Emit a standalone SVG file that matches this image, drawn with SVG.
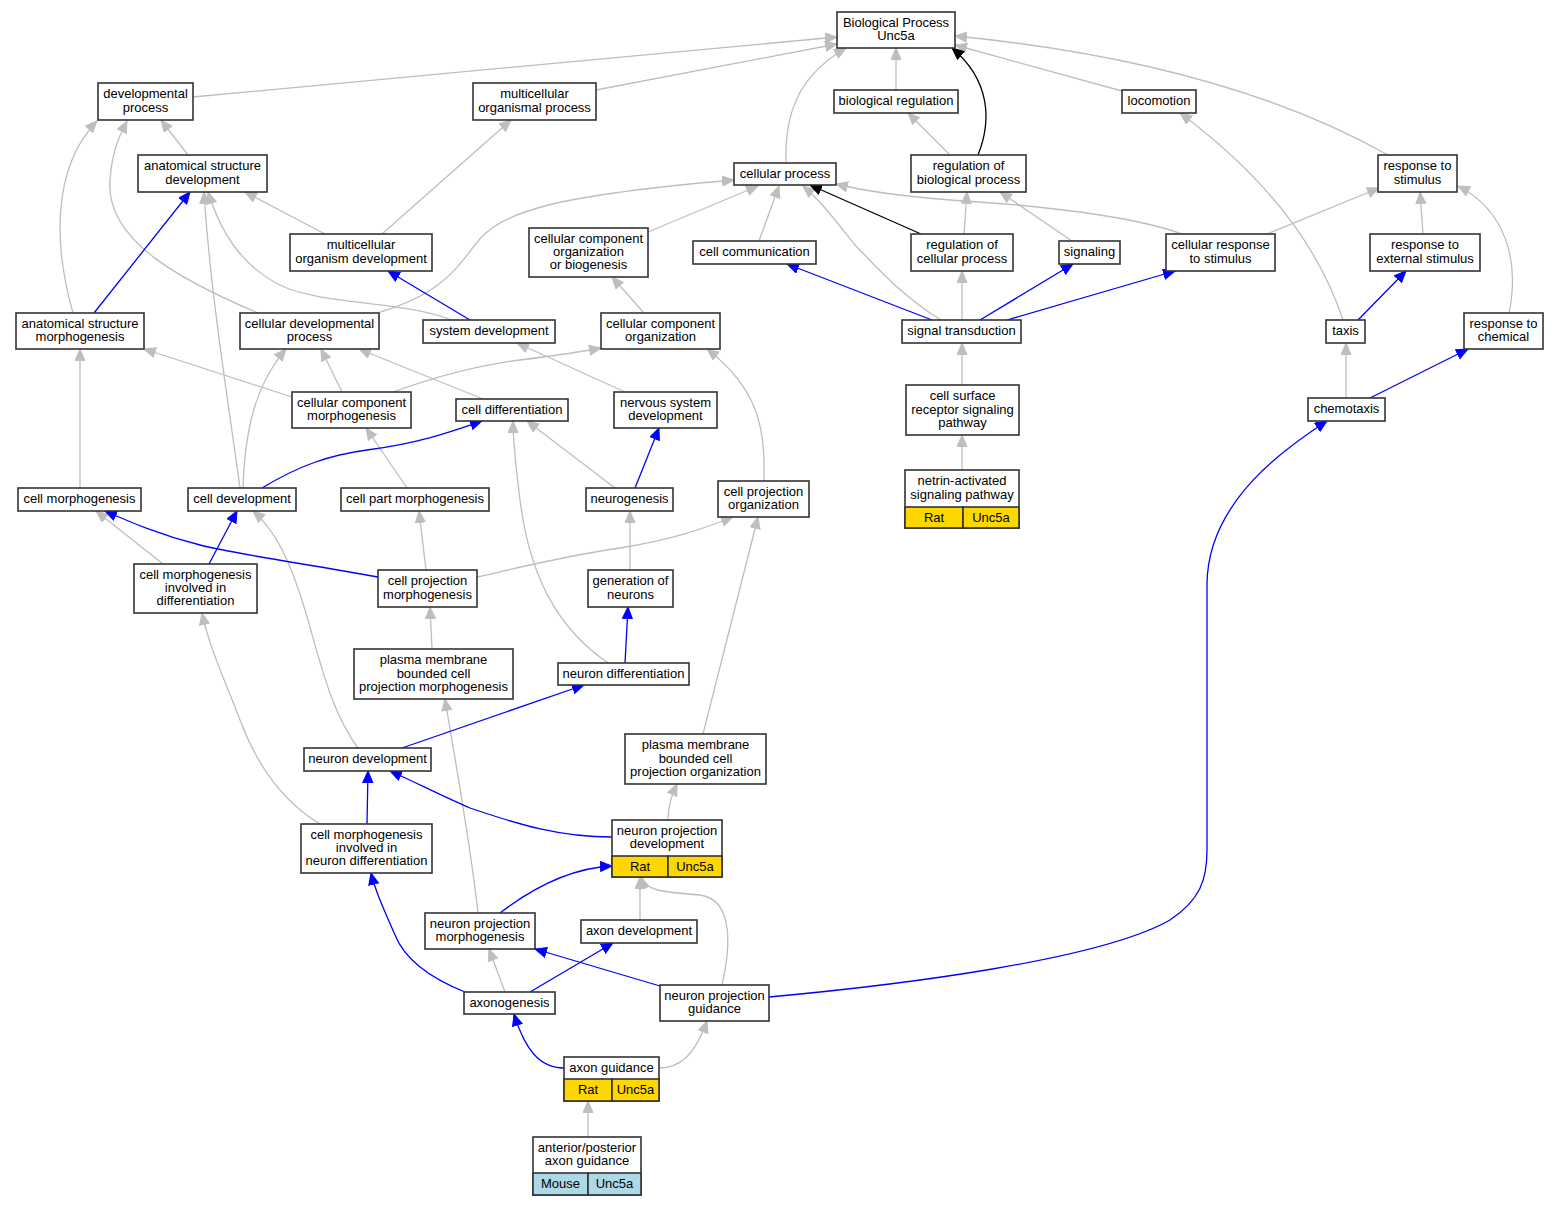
<svg xmlns="http://www.w3.org/2000/svg" width="1559" height="1205" viewBox="0 0 1559 1205">
<defs>
<marker id="ag" markerUnits="userSpaceOnUse" markerWidth="14" markerHeight="12" refX="12" refY="5.5" orient="auto"><path d="M0.5,0.5 L12,5.5 L0.5,10.5 z" fill="#BEBEBE" stroke="#BEBEBE" stroke-width="1"/></marker>
<marker id="ab" markerUnits="userSpaceOnUse" markerWidth="14" markerHeight="12" refX="12" refY="5.5" orient="auto"><path d="M0.5,0.5 L12,5.5 L0.5,10.5 z" fill="#0000FF" stroke="#0000FF" stroke-width="1"/></marker>
<marker id="ak" markerUnits="userSpaceOnUse" markerWidth="14" markerHeight="12" refX="12" refY="5.5" orient="auto"><path d="M0.5,0.5 L12,5.5 L0.5,10.5 z" fill="#000000" stroke="#000000" stroke-width="1"/></marker>
</defs>
<style>
.n rect{fill:#fff;stroke:#333;stroke-width:1.6}
.n rect.y{fill:#FFD700}
.n rect.lb{fill:#ADD8E6}
text{font-family:"Liberation Sans",Arial,sans-serif;font-size:13px;text-anchor:middle;fill:#000}
#edges path{fill:none;stroke-width:1.3}
#edges .g{stroke:#BEBEBE;marker-end:url(#ag)}
#edges .b{stroke:#0000FF;marker-end:url(#ab)}
#edges .k{stroke:#000;marker-end:url(#ak)}
</style>
<rect x="0" y="0" width="1559" height="1205" fill="#fff"/>
<g id="edges">
<path class="g" d="M193,97 L837,37"/>
<path class="g" d="M596,90 L837,44"/>
<path class="g" d="M786,163 C784,105 805,72 846,48"/>
<path class="g" d="M896,90 L896,48"/>
<path class="g" d="M1122,91 L955,45"/>
<path class="g" d="M1388,155 C1290,100 1150,55 955,36"/>
<path class="g" d="M188,155 L161,120"/>
<path class="g" d="M73,313 C55,250 50,170 97,121"/>
<path class="g" d="M258,313 C180,280 105,240 110,180 C112,150 120,135 127,121"/>
<path class="g" d="M325,234 L245,192"/>
<path class="g" d="M382,234 L511,120"/>
<path class="g" d="M240,488 C228,400 210,290 204,192"/>
<path class="g" d="M452,320 C400,300 320,305 280,285 C240,265 220,230 208,192"/>
<path class="g" d="M377,313 C440,295 455,270 475,245 C500,210 560,195 734,180"/>
<path class="g" d="M648,232 L758,186"/>
<path class="g" d="M759,241 L779,186"/>
<path class="g" d="M941,320 C900,295 870,260 855,245 C835,220 820,200 803,186"/>
<path class="g" d="M1182,234 C1130,215 1030,205 950,200 C900,196 860,190 836,184"/>
<path class="g" d="M964,234 L967,192"/>
<path class="g" d="M1072,241 L1000,192"/>
<path class="g" d="M950,155 L908,113"/>
<path class="g" d="M1267,234 L1379,188"/>
<path class="g" d="M1423,234 L1420,192"/>
<path class="g" d="M1509,313 C1520,260 1505,210 1458,186"/>
<path class="g" d="M1343,320 C1320,250 1270,180 1180,113"/>
<path class="g" d="M1346,398 L1346,343"/>
<path class="g" d="M644,313 L612,277"/>
<path class="g" d="M292,397 L144,349"/>
<path class="g" d="M342,392 L321,349"/>
<path class="g" d="M393,392 C440,375 480,365 520,360 C560,355 580,352 601,348"/>
<path class="g" d="M483,399 L359,349"/>
<path class="g" d="M243,488 C245,430 255,385 286,349"/>
<path class="g" d="M80,488 L80,349"/>
<path class="g" d="M407,488 L366,428"/>
<path class="g" d="M615,488 L527,421"/>
<path class="g" d="M625,392 L517,343"/>
<path class="g" d="M764,481 C765,430 760,390 707,349"/>
<path class="g" d="M608,663 C560,630 530,580 520,500 C515,460 513,440 513,421"/>
<path class="g" d="M163,564 L96,511"/>
<path class="g" d="M358,748 C330,710 320,660 305,610 C290,560 275,530 253,511"/>
<path class="g" d="M426,570 L419,511"/>
<path class="g" d="M477,577 C530,565 570,555 620,548 C670,540 700,530 733,517"/>
<path class="g" d="M630,570 L630,511"/>
<path class="g" d="M432,649 L430,607"/>
<path class="g" d="M320,824 C280,800 255,760 240,720 C225,680 210,650 202,613"/>
<path class="g" d="M478,913 C470,840 455,760 445,699"/>
<path class="g" d="M668,820 C668,805 672,795 677,784"/>
<path class="g" d="M703,734 L758,517"/>
<path class="g" d="M640,920 L640,877"/>
<path class="g" d="M722,985 C730,950 735,900 700,895 C660,892 645,890 641,877"/>
<path class="g" d="M505,992 L489,949"/>
<path class="g" d="M659,1068 C680,1068 695,1055 707,1021"/>
<path class="g" d="M588,1137 L588,1101"/>
<path class="g" d="M962,320 L962,271"/>
<path class="g" d="M962,385 L962,343"/>
<path class="g" d="M962,470 L962,435"/>
<path class="b" d="M94,313 L190,192"/>
<path class="b" d="M470,320 L388,271"/>
<path class="b" d="M262,488 C300,465 330,455 367,450 C420,443 450,432 482,421"/>
<path class="b" d="M635,488 L659,428"/>
<path class="b" d="M209,564 L237,511"/>
<path class="b" d="M378,577 C300,563 230,553 200,545 C160,535 130,522 105,511"/>
<path class="b" d="M625,663 L628,607"/>
<path class="b" d="M402,748 L584,685"/>
<path class="b" d="M367,824 L368,771"/>
<path class="b" d="M612,837 C560,837 520,825 470,808 C440,795 415,782 390,771"/>
<path class="b" d="M500,913 C530,890 570,868 612,866"/>
<path class="b" d="M530,992 L613,943"/>
<path class="b" d="M465,992 C430,978 405,960 395,935 C382,905 375,890 371,873"/>
<path class="b" d="M660,986 L535,949"/>
<path class="b" d="M769,997 C900,985 1100,960 1170,920 C1200,900 1207,880 1207,850 L1207,585 C1207,500 1290,445 1327,421"/>
<path class="b" d="M564,1068 C540,1068 525,1050 514,1014"/>
<path class="b" d="M932,320 L787,264"/>
<path class="b" d="M980,320 L1073,264"/>
<path class="b" d="M1007,320 L1175,271"/>
<path class="b" d="M1358,320 L1406,271"/>
<path class="b" d="M1370,398 L1468,349"/>
<path class="k" d="M978,155 C992,120 990,80 952,48"/>
<path class="k" d="M921,234 L810,185"/>
</g>
<g id="bp" class="n"><rect x="837" y="12" width="118" height="36"/><text x="896" y="26.8">Biological Process</text><text x="896" y="40.2">Unc5a</text></g>
<g id="dev" class="n"><rect x="98" y="83" width="95" height="37"/><text x="145.5" y="98.3">developmental</text><text x="145.5" y="111.7">process</text></g>
<g id="mop" class="n"><rect x="473" y="83" width="123" height="37"/><text x="534.5" y="98.3">multicellular</text><text x="534.5" y="111.7">organismal process</text></g>
<g id="breg" class="n"><rect x="834" y="90" width="124" height="23"/><text x="896" y="105">biological regulation</text></g>
<g id="loc" class="n"><rect x="1122" y="90" width="74" height="23"/><text x="1159" y="105">locomotion</text></g>
<g id="asd" class="n"><rect x="138" y="155" width="129" height="37"/><text x="202.5" y="170.3">anatomical structure</text><text x="202.5" y="183.7">development</text></g>
<g id="cp" class="n"><rect x="734" y="163" width="102" height="22"/><text x="785" y="177.5">cellular process</text></g>
<g id="rbp" class="n"><rect x="911" y="155" width="115" height="37"/><text x="968.5" y="170.3">regulation of</text><text x="968.5" y="183.7">biological process</text></g>
<g id="rs" class="n"><rect x="1378" y="155" width="79" height="37"/><text x="1417.5" y="170.3">response to</text><text x="1417.5" y="183.7">stimulus</text></g>
<g id="mod" class="n"><rect x="290" y="234" width="142" height="37"/><text x="361" y="249.3">multicellular</text><text x="361" y="262.7">organism development</text></g>
<g id="ccob" class="n"><rect x="529" y="228" width="119" height="49"/><text x="588.5" y="242.6">cellular component</text><text x="588.5" y="256">organization</text><text x="588.5" y="269.4">or biogenesis</text></g>
<g id="cc" class="n"><rect x="693" y="241" width="123" height="23"/><text x="754.5" y="256">cell communication</text></g>
<g id="rcp" class="n"><rect x="911" y="234" width="102" height="37"/><text x="962" y="249.3">regulation of</text><text x="962" y="262.7">cellular process</text></g>
<g id="sig" class="n"><rect x="1059" y="241" width="61" height="23"/><text x="1089.5" y="256">signaling</text></g>
<g id="crs" class="n"><rect x="1166" y="234" width="109" height="37"/><text x="1220.5" y="249.3">cellular response</text><text x="1220.5" y="262.7">to stimulus</text></g>
<g id="res" class="n"><rect x="1370" y="234" width="110" height="37"/><text x="1425" y="249.3">response to</text><text x="1425" y="262.7">external stimulus</text></g>
<g id="asm" class="n"><rect x="16" y="313" width="128" height="36"/><text x="80" y="327.8">anatomical structure</text><text x="80" y="341.2">morphogenesis</text></g>
<g id="cdp" class="n"><rect x="240" y="313" width="139" height="36"/><text x="309.5" y="327.8">cellular developmental</text><text x="309.5" y="341.2">process</text></g>
<g id="sd" class="n"><rect x="423" y="320" width="132" height="23"/><text x="489" y="335">system development</text></g>
<g id="cco" class="n"><rect x="601" y="313" width="119" height="36"/><text x="660.5" y="327.8">cellular component</text><text x="660.5" y="341.2">organization</text></g>
<g id="st" class="n"><rect x="902" y="320" width="119" height="23"/><text x="961.5" y="335">signal transduction</text></g>
<g id="tax" class="n"><rect x="1326" y="320" width="39" height="23"/><text x="1345.5" y="335">taxis</text></g>
<g id="rc" class="n"><rect x="1464" y="313" width="79" height="36"/><text x="1503.5" y="327.8">response to</text><text x="1503.5" y="341.2">chemical</text></g>
<g id="ccm" class="n"><rect x="292" y="392" width="119" height="36"/><text x="351.5" y="406.8">cellular component</text><text x="351.5" y="420.2">morphogenesis</text></g>
<g id="cd" class="n"><rect x="456" y="399" width="112" height="22"/><text x="512" y="413.5">cell differentiation</text></g>
<g id="nsd" class="n"><rect x="614" y="392" width="103" height="36"/><text x="665.5" y="406.8">nervous system</text><text x="665.5" y="420.2">development</text></g>
<g id="csrsp" class="n"><rect x="906" y="385" width="113" height="50"/><text x="962.5" y="400.1">cell surface</text><text x="962.5" y="413.5">receptor signaling</text><text x="962.5" y="426.9">pathway</text></g>
<g id="chem" class="n"><rect x="1308" y="398" width="77" height="23"/><text x="1346.5" y="413">chemotaxis</text></g>
<g id="cm" class="n"><rect x="18" y="488" width="123" height="23"/><text x="79.5" y="503">cell morphogenesis</text></g>
<g id="cdev" class="n"><rect x="188" y="488" width="108" height="23"/><text x="242" y="503">cell development</text></g>
<g id="cpm" class="n"><rect x="341" y="488" width="148" height="23"/><text x="415" y="503">cell part morphogenesis</text></g>
<g id="neurog" class="n"><rect x="586" y="488" width="87" height="23"/><text x="629.5" y="503">neurogenesis</text></g>
<g id="cpo" class="n"><rect x="718" y="481" width="91" height="36"/><text x="763.5" y="495.8">cell projection</text><text x="763.5" y="509.2">organization</text></g>
<g id="nasp" class="n"><rect x="905" y="470" width="114" height="58"/><rect class="y" x="905" y="507" width="58" height="21"/><rect class="y" x="963" y="507" width="56" height="21"/><text x="962" y="485.3">netrin-activated</text><text x="962" y="498.7">signaling pathway</text><text x="934" y="521.5">Rat</text><text x="991" y="521.5">Unc5a</text></g>
<g id="cmid" class="n"><rect x="134" y="564" width="123" height="49"/><text x="195.5" y="578.6">cell morphogenesis</text><text x="195.5" y="592">involved in</text><text x="195.5" y="605.4">differentiation</text></g>
<g id="cpmorph" class="n"><rect x="378" y="570" width="99" height="37"/><text x="427.5" y="585.3">cell projection</text><text x="427.5" y="598.7">morphogenesis</text></g>
<g id="gon" class="n"><rect x="588" y="570" width="85" height="37"/><text x="630.5" y="585.3">generation of</text><text x="630.5" y="598.7">neurons</text></g>
<g id="pmbcpm" class="n"><rect x="354" y="649" width="159" height="50"/><text x="433.5" y="664.1">plasma membrane</text><text x="433.5" y="677.5">bounded cell</text><text x="433.5" y="690.9">projection morphogenesis</text></g>
<g id="nd" class="n"><rect x="558" y="663" width="131" height="22"/><text x="623.5" y="677.5">neuron differentiation</text></g>
<g id="ndev" class="n"><rect x="304" y="748" width="127" height="23"/><text x="367.5" y="763">neuron development</text></g>
<g id="pmbcpo" class="n"><rect x="625" y="734" width="141" height="50"/><text x="695.5" y="749.1">plasma membrane</text><text x="695.5" y="762.5">bounded cell</text><text x="695.5" y="775.9">projection organization</text></g>
<g id="cmind" class="n"><rect x="301" y="824" width="131" height="49"/><text x="366.5" y="838.6">cell morphogenesis</text><text x="366.5" y="852">involved in</text><text x="366.5" y="865.4">neuron differentiation</text></g>
<g id="npd" class="n"><rect x="612" y="820" width="110" height="57"/><rect class="y" x="612" y="856" width="56" height="21"/><rect class="y" x="668" y="856" width="54" height="21"/><text x="667" y="834.8">neuron projection</text><text x="667" y="848.2">development</text><text x="640" y="870.5">Rat</text><text x="695" y="870.5">Unc5a</text></g>
<g id="npm" class="n"><rect x="425" y="913" width="110" height="36"/><text x="480" y="927.8">neuron projection</text><text x="480" y="941.2">morphogenesis</text></g>
<g id="ad" class="n"><rect x="581" y="920" width="116" height="23"/><text x="639" y="935">axon development</text></g>
<g id="axg" class="n"><rect x="464" y="992" width="91" height="22"/><text x="509.5" y="1006.5">axonogenesis</text></g>
<g id="npg" class="n"><rect x="660" y="985" width="109" height="36"/><text x="714.5" y="999.8">neuron projection</text><text x="714.5" y="1013.2">guidance</text></g>
<g id="ag" class="n"><rect x="564" y="1057" width="95" height="44"/><rect class="y" x="564" y="1079" width="48" height="22"/><rect class="y" x="612" y="1079" width="47" height="22"/><text x="611.5" y="1071.5">axon guidance</text><text x="588" y="1093.5">Rat</text><text x="635.5" y="1093.5">Unc5a</text></g>
<g id="apag" class="n"><rect x="533" y="1137" width="108" height="58"/><rect class="lb" x="533" y="1173" width="55" height="22"/><rect class="lb" x="588" y="1173" width="53" height="22"/><text x="587" y="1151.8">anterior/posterior</text><text x="587" y="1165.2">axon guidance</text><text x="560.5" y="1188">Mouse</text><text x="614.5" y="1188">Unc5a</text></g>
</svg>
